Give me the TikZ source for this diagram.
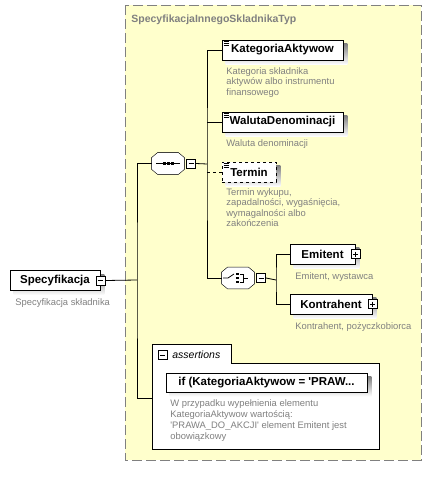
\documentclass[tikz,border=0pt]{standalone}
\usepackage{fontspec}
\setmainfont{Liberation Sans}
\usetikzlibrary{backgrounds}
\definecolor{bgyellow}{RGB}{255,255,204}
\definecolor{framegray}{RGB}{128,128,128}
\definecolor{notegray}{RGB}{128,128,128}
\definecolor{shade}{RGB}{190,190,190}
\newcommand{\sq}{\textquotesingle}

\begin{document}
\begin{tikzpicture}[x=1pt,y=-1pt,line width=0.8pt,
elem/.style={draw,fill=white,minimum height=20pt,inner sep=0pt,font=\fontsize{11.5}{13}\selectfont\bfseries},
comp/.style={inner sep=0pt,minimum height=21pt},
note/.style={text=notegray,font=\fontsize{9.4}{10.5}\selectfont,align=left,inner sep=0pt,anchor=north west},
minusbox/.style={draw,fill=white,minimum size=9pt,inner sep=0pt,line width=0.6pt,
  path picture={\draw[line width=0.6pt] ([xshift=2pt]path picture bounding box.west) -- ([xshift=-2pt]path picture bounding box.east);}},
plusbox/.style={draw,fill=white,minimum size=9pt,inner sep=0pt,line width=0.6pt,
  path picture={\draw[line width=0.6pt] ([xshift=2pt]path picture bounding box.west) -- ([xshift=-2pt]path picture bounding box.east)
    ([yshift=-2pt]path picture bounding box.north) -- ([yshift=2pt]path picture bounding box.south);}}]
\useasboundingbox (0,0) rectangle (432,479);
\node[anchor=west,inner sep=0pt,text=framegray,font=\fontsize{10.5}{12}\selectfont\bfseries] (title) at (131,20) {SpecyfikacjaInnegoSkladnikaTyp};
% root element
\node[elem,minimum width=90pt] (spec) at (55,280.5) {Specyfikacja};
\node[minusbox] (specm) at (spec.east) {};
\node[note] (specd) at (15,298) {Specyfikacja składnika};
% sequence
\node[comp,minimum width=32pt] (seq) at (168,163.5) {};
\node[minusbox,anchor=west] (seqm) at ([xshift=2pt]seq.east) {};
% children of sequence
\node[elem,minimum width=121pt] (kat) at (282.5,50) {KategoriaAktywow};
\node[note] (katd) at (226,67) {Kategoria składnika\\aktywów albo instrumentu\\finansowego};
\node[elem,minimum width=121pt] (wal) at (282.5,122) {WalutaDenominacji};
\node[note] (wald) at (226,139) {Waluta denominacji};
\node[elem,dashed,minimum width=54pt] (ter) at (249,172) {Termin};
\node[note] (terd) at (226,188) {Termin wykupu,\\zapadalności, wygaśnięcia,\\wymagalności albo\\zakończenia};
\foreach \n in {kat,wal,ter}
  \foreach \d in {2,4,6}
    \draw[line width=0.5pt] ([shift={(2,\d)}]\n.north west) -- ++(5,0);
% choice
\node[comp,minimum width=32pt] (cho) at (238,278) {};
\node[minusbox,anchor=west] (chom) at ([xshift=2pt]cho.east) {};
\node[elem,minimum width=65pt] (emi) at (322.5,254) {Emitent\hspace{8pt}};
\node[plusbox] (emip) at (emi.east) {};
\node[note] (emid) at (295,272) {Emitent, wystawca};
\node[elem,minimum width=82pt] (kon) at (331,304) {Kontrahent\hspace{8pt}};
\node[plusbox] (konp) at (kon.east) {};
\node[note] (kond) at (295,322) {Kontrahent, pożyczkobiorca};
% assertions
\node[minusbox] (asrtm) at (162.5,355) {};
\node[anchor=west,inner sep=0pt,font=\fontsize{10.5}{12}\selectfont\itshape] (asrtl) at (172,354.5) {assertions};
\node[elem,minimum width=201pt,minimum height=19pt] (cond) at (266.5,382.5) {if (KategoriaAktywow = \sq PRAW...};
\node[note,font=\fontsize{9.4}{11}\selectfont] (condd) at (170,399) {W przypadku wypełnienia elementu\\KategoriaAktywow wartością:\\\sq PRAWA\_DO\_AKCJI\sq{} element Emitent jest\\obowiązkowy};
% frame, shadows, compositor outlines
\begin{scope}[on background layer]
\draw[framegray,line width=1pt,dash pattern=on 10pt off 4pt,fill=bgyellow] (125,5) rectangle (421,460);
\draw[fill=white] (152,344) -- (231,344) -- (231,363) -- (379,363) -- (379,449) -- (152,449) -- cycle;
\foreach \n in {spec,kat,wal,ter,emi,kon,cond}
  \fill[shade] ([shift={(4,4)}]\n.north west) rectangle ([shift={(4,4)}]\n.south east);
\foreach \n in {seq,cho}{
  \fill[shade,shift={(4,4)}] ([shift={(6,0)}]\n.north west) -- ([shift={(-6,0)}]\n.north east) -- ([shift={(0,5)}]\n.north east)
    -- ([shift={(0,-5)}]\n.south east) -- ([shift={(-6,0)}]\n.south east) -- ([shift={(6,0)}]\n.south west)
    -- ([shift={(0,-5)}]\n.south west) -- ([shift={(0,5)}]\n.north west) -- cycle;
  \draw[fill=white] ([shift={(6,0)}]\n.north west) -- ([shift={(-6,0)}]\n.north east) -- ([shift={(0,5)}]\n.north east)
    -- ([shift={(0,-5)}]\n.south east) -- ([shift={(-6,0)}]\n.south east) -- ([shift={(6,0)}]\n.south west)
    -- ([shift={(0,-5)}]\n.south west) -- ([shift={(0,5)}]\n.north west) -- cycle;
}
\end{scope}
% compositor icons
\draw (seq.center) +(-12,0) -- +(12,0);
\foreach \dx in {-4,0,4}
  \fill ([xshift=\dx pt]seq.center) +(-1.5,-1.5) rectangle +(1.5,1.5);
\draw (cho.center) +(-15,0) -- +(-10,0) -- +(-4,-4);
\foreach \dy in {-4,0,4}
  \fill ([yshift=-\dy pt]cho.center) +(-2,-1.3) rectangle +(0.6,1.3);
\draw (cho.center) +(2,-4) -- +(5,-4) -- +(5,4) -- +(2,4) +(5,0) -- +(10,0);
% connectors
\coordinate (trunk) at (137,280);
\coordinate (asrt) at (152,398);
\coordinate (seqbus) at (207,164);
\coordinate (chobus) at (276,280);
\draw (specm.east) -- (trunk);
\draw (seq.west) -| (trunk) |- (asrt);
\draw (seqm.east) -- (seqbus);
\draw (kat.west) -| (seqbus) |- (cho.west);
\draw (wal.west) -- (wal.west -| seqbus);
\draw[dashed] (ter.west) -- (ter.west -| seqbus);
\draw (chom.east) -- (chobus);
\draw (emi.west) -| (chobus) |- (kon.west);
\end{tikzpicture}
\end{document}
